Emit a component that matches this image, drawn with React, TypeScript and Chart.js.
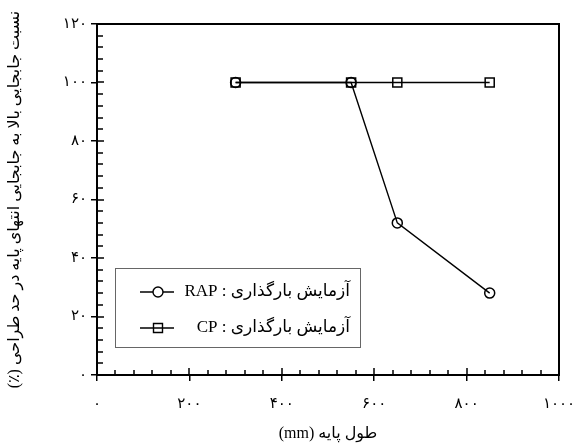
import { useEffect, useRef } from 'react';
import { Chart, registerables } from 'chart.js';

Chart.register(...registerables);

// ---- data ----
const pileLengths = [300, 550, 650, 850];
const rapValues = [100, 100, 52, 28];
const cpValues = [100, 100, 100, 100];

const xMin = 0;
const xMax = 1000;
const xStep = 200;
const xMinorStep = 40;
const yMin = 0;
const yMax = 120;
const yStep = 20;
const yMinorStep = 4;

const rapLabel = 'آزمایش بارگذاری : RAP';
const cpLabel = 'آزمایش بارگذاری : CP';
const xTitle = 'طول پایه (mm)';
const yTitle = 'نسبت جابجایی بالا به جابجایی انتهای پایه در حد طراحی (٪)';

const FONT = "'Liberation Serif', 'DejaVu Sans', serif";
const persianDigits = '۰۱۲۳۴۵۶۷۸۹';
const toPersian = (v: number | string) =>
  String(v).replace(/\d/g, (d) => persianDigits[Number(d)]);

const framePlugin = {
  id: 'frameAndLegend',
  afterDraw(chart: any) {
    const { ctx, chartArea: a, scales } = chart;
    const x = scales.x;
    const y = scales.y;
    ctx.save();
    ctx.strokeStyle = '#000';
    // top & right frame
    ctx.lineWidth = 2;
    ctx.beginPath();
    ctx.moveTo(a.left - 1, a.top);
    ctx.lineTo(a.right, a.top);
    ctx.lineTo(a.right, a.bottom + 1);
    ctx.stroke();
    // inward ticks (major + minor)
    ctx.lineWidth = 1.5;
    ctx.beginPath();
    for (let v = xMin; v <= xMax; v += xMinorStep) {
      const px = Math.round(x.getPixelForValue(v));
      const len = v % xStep === 0 ? 7 : 5;
      ctx.moveTo(px, a.bottom);
      ctx.lineTo(px, a.bottom - len);
    }
    for (let v = yMin; v <= yMax; v += yMinorStep) {
      const py = Math.round(y.getPixelForValue(v));
      const len = v % yStep === 0 ? 7 : 6;
      ctx.moveTo(a.left, py);
      ctx.lineTo(a.left + len, py);
    }
    ctx.stroke();

    // legend box
    const bx = a.left + 18;
    const by = a.top + 244;
    const bw = 245;
    const bh = 79;
    ctx.strokeStyle = '#666';
    ctx.lineWidth = 1;
    ctx.strokeRect(bx + 0.5, by + 0.5, bw, bh);

    const rows = [
      { label: rapLabel, shape: 'circle', dy: 24 },
      { label: cpLabel, shape: 'square', dy: 60 },
    ];
    rows.forEach((r) => {
      const cy = by + r.dy;
      ctx.strokeStyle = '#000';
      ctx.lineWidth = 1.4;
      ctx.beginPath();
      ctx.moveTo(bx + 25, cy);
      ctx.lineTo(bx + 59, cy);
      ctx.stroke();
      const mx = bx + 43;
      ctx.beginPath();
      if (r.shape === 'circle') {
        ctx.fillStyle = '#fff';
        ctx.arc(mx, cy, 5, 0, Math.PI * 2);
        ctx.fill();
      } else {
        ctx.rect(mx - 4.5, cy - 4.5, 9, 9);
      }
      ctx.stroke();
      ctx.fillStyle = '#000';
      ctx.font = `17px ${FONT}`;
      ctx.direction = 'rtl';
      ctx.textAlign = 'right';
      ctx.textBaseline = 'middle';
      ctx.fillText(r.label, bx + bw - 10, cy);
    });
    ctx.restore();
  },
};

export default function App() {
  const canvasRef = useRef<HTMLCanvasElement | null>(null);

  useEffect(() => {
    document.body.style.margin = '0';
    const canvas = canvasRef.current;
    if (!canvas) return;
    const chart = new Chart(canvas, {
      type: 'line',
      data: {
        datasets: [
          {
            label: cpLabel,
            data: pileLengths.map((x, i) => ({ x, y: cpValues[i] })),
            borderColor: '#000',
            backgroundColor: 'rgba(0,0,0,0)',
            borderWidth: 1.4,
            pointStyle: 'rect',
            pointRadius: 6.4,
            pointBorderWidth: 1.5,
            pointBorderColor: '#000',
            pointBackgroundColor: 'rgba(0,0,0,0)',
          },
          {
            label: rapLabel,
            data: pileLengths.map((x, i) => ({ x, y: rapValues[i] })),
            borderColor: '#000',
            backgroundColor: 'rgba(0,0,0,0)',
            borderWidth: 1.4,
            pointStyle: 'circle',
            pointRadius: 5,
            pointBorderWidth: 1.5,
            pointBorderColor: '#000',
            pointBackgroundColor: 'rgba(0,0,0,0)',
          },
        ],
      },
      options: {
        animation: false,
        responsive: false,
        maintainAspectRatio: false,
        layout: { padding: { top: 24, right: 14, left: 0, bottom: 0 } },
        plugins: {
          legend: { display: false },
          tooltip: { enabled: false },
        },
        scales: {
          x: {
            type: 'linear',
            min: xMin,
            max: xMax,
            grid: {
              drawOnChartArea: false,
              drawTicks: true,
              tickLength: 6,
              color: '#000',
              lineWidth: 1.5,
            },
            border: { display: true, color: '#000', width: 2 },
            ticks: {
              stepSize: xStep,
              color: '#000',
              padding: 14,
              maxRotation: 0,
              font: { family: FONT, size: 15 },
              callback: (v: any) => toPersian(v),
            },
            title: {
              display: true,
              text: xTitle,
              color: '#000',
              font: { family: FONT, size: 16 },
              padding: { top: 0, bottom: 4 },
            },
            afterFit: (s: any) => {
              s.height = 72;
              s.paddingLeft = 0;
              s.paddingRight = 0;
            },
          },
          y: {
            type: 'linear',
            min: yMin,
            max: yMax,
            grid: {
              drawOnChartArea: false,
              drawTicks: true,
              tickLength: 6,
              color: '#000',
              lineWidth: 1.5,
            },
            border: { display: true, color: '#000', width: 2 },
            ticks: {
              stepSize: yStep,
              color: '#000',
              padding: 4,
              font: { family: FONT, size: 15 },
              callback: (v: any) => toPersian(v),
            },
            title: {
              display: true,
              text: yTitle,
              color: '#000',
              font: { family: FONT, size: 16 },
              padding: { top: 5, bottom: 0 },
            },
            afterFit: (s: any) => {
              s.width = 97;
              s.paddingTop = 0;
              s.paddingBottom = 0;
            },
          },
        },
      },
      plugins: [framePlugin],
    });
    return () => chart.destroy();
  }, []);

  return (
    <div style={{ width: 573, height: 447 }}>
      <canvas ref={canvasRef} width={573} height={447} dir="rtl" style={{ width: 573, height: 447, display: 'block' }} />
    </div>
  );
}
